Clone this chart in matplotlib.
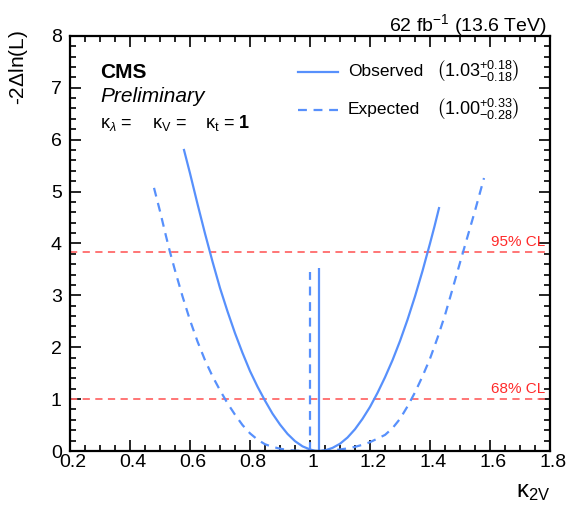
import matplotlib
matplotlib.use("Agg")
import matplotlib.pyplot as plt
import matplotlib.transforms as mtrans
from matplotlib.ticker import MultipleLocator

plt.rcParams["font.family"] = ["Liberation Sans", "DejaVu Sans"]
plt.rcParams["mathtext.fontset"] = "custom"
plt.rcParams["mathtext.rm"] = "Liberation Sans"
plt.rcParams["mathtext.it"] = "Liberation Sans:italic"
plt.rcParams["mathtext.bf"] = "Liberation Sans:bold"

# observed scan, -2 dlnL vs kappa_2V
obs_k2v = [0.58, 0.60, 0.625, 0.65, 0.675, 0.70, 0.725, 0.75, 0.775, 0.80,
           0.825, 0.85, 0.875, 0.90, 0.925, 0.95, 0.975, 1.00, 1.015, 1.03,
           1.05, 1.075, 1.10, 1.125, 1.15, 1.175, 1.20, 1.225, 1.25, 1.275,
           1.30, 1.325, 1.35, 1.375, 1.40, 1.415, 1.43]
obs_nll = [5.80, 5.35, 4.76, 4.19, 3.65, 3.14, 2.69, 2.27, 1.89, 1.54,
           1.24, 0.97, 0.72, 0.51, 0.33, 0.19, 0.09, 0.03, 0.007, 0.00,
           0.012, 0.06, 0.14, 0.26, 0.42, 0.62, 0.85, 1.12, 1.42, 1.75,
           2.12, 2.53, 2.98, 3.47, 4.00, 4.33, 4.68]

# expected (Asimov) scan
exp_k2v = [0.48, 0.50, 0.52, 0.533, 0.55, 0.575, 0.60, 0.625, 0.65, 0.675,
           0.70, 0.725, 0.75, 0.775, 0.80, 0.825, 0.85, 0.875, 0.90, 0.925,
           0.95, 0.975, 1.00, 1.025, 1.05, 1.075, 1.10, 1.125, 1.15, 1.175,
           1.20, 1.225, 1.25, 1.275, 1.30, 1.325, 1.35, 1.375, 1.40, 1.425,
           1.45, 1.475, 1.50, 1.525, 1.55, 1.58]
exp_nll = [5.07, 4.62, 4.14, 3.84, 3.48, 2.98, 2.52, 2.11, 1.75, 1.44,
           1.17, 0.92, 0.70, 0.50, 0.34, 0.22, 0.13, 0.08, 0.045, 0.02,
           0.008, 0.002, 0.00, 0.001, 0.005, 0.013, 0.03, 0.05, 0.08, 0.12,
           0.17, 0.24, 0.31, 0.44, 0.62, 0.86, 1.13, 1.44, 1.78, 2.18,
           2.62, 3.12, 3.63, 4.13, 4.63, 5.26]

# best fit values and uncertainties
obs_best, obs_up, obs_dn = 1.03, 0.18, 0.18
exp_best, exp_up, exp_dn = 1.00, 0.33, 0.28
obs_mark_h = 3.52
exp_mark_h = 3.45

cl_levels = [1.0, 3.84]
cl_names = ["68% CL", "95% CL"]

blue = "#5790fc"
red_line = "#ff6a6a"
red_txt = "#ff2a2a"
dash = (0, (4, 3))

fig = plt.figure(figsize=(5.8, 5.19), dpi=100)
ax = fig.add_axes([0.1207, 0.131, 0.8276, 0.8000])

for lvl, name in zip(cl_levels, cl_names):
    ax.axhline(lvl, color=red_line, ls=dash, lw=1.3)
    ax.text(1.785, lvl + 0.06, name, color=red_txt, fontsize=11,
            ha="right", va="bottom")

ax.plot(exp_k2v, exp_nll, color=blue, ls=dash, lw=1.6)
ax.plot(obs_k2v, obs_nll, color=blue, ls="-", lw=1.6)
ax.vlines(exp_best, 0, exp_mark_h, color=blue, ls=dash, lw=1.6)
ax.vlines(obs_best, 0, obs_mark_h, color=blue, ls="-", lw=1.6)

ax.set_xlim(0.2, 1.8)
ax.set_ylim(0, 8)
ax.xaxis.set_major_locator(MultipleLocator(0.2))
ax.xaxis.set_minor_locator(MultipleLocator(0.05))
ax.yaxis.set_major_locator(MultipleLocator(1))
ax.yaxis.set_minor_locator(MultipleLocator(0.2))
ax.xaxis.set_major_formatter(plt.FuncFormatter(lambda v, p: f"{v:g}"))
ax.tick_params(which="both", direction="in", top=True, right=True,
               width=1.2, labelsize=14)
ax.tick_params(which="major", length=8)
ax.tick_params(which="minor", length=4)
ax.tick_params(axis="x", pad=2)
ax.tick_params(axis="y", pad=6)
for s in ax.spines.values():
    s.set_linewidth(1.6)

# ROOT puts the x labels a touch to the right
shift = mtrans.ScaledTranslation(3 / 100, 0, fig.dpi_scale_trans)
for lab in ax.get_xticklabels():
    lab.set_transform(lab.get_transform() + shift)

ax.text(-0.108, 1.014, "-2$\\Delta$ln(L)", transform=ax.transAxes,
        rotation=90, fontsize=15, ha="center", va="top")
ax.text(1.0, -0.099, "κ$_{\\mathrm{2V}}$", transform=ax.transAxes,
        fontsize=17, ha="right", va="center")
ax.text(0.994, 1.012, "62 fb$^{-1}$ (13.6 TeV)", transform=ax.transAxes,
        fontsize=14, ha="right", va="baseline")

ax.text(0.0625, 0.899, "CMS", transform=ax.transAxes, fontsize=15,
        fontweight="bold", va="baseline")
ax.text(0.0625, 0.841, "Preliminary", transform=ax.transAxes, fontsize=15,
        style="italic", va="baseline")
ax.text(0.0625, 0.778, "κ$_{\\lambda}$ =", transform=ax.transAxes,
        fontsize=13, va="baseline")
ax.text(0.171, 0.778, "κ$_{\\mathrm{V}}$ =", transform=ax.transAxes,
        fontsize=13, va="baseline")
ax.text(0.281, 0.778, "κ$_{\\mathrm{t}}$ =", transform=ax.transAxes,
        fontsize=13, va="baseline")
ax.text(0.352, 0.778, "1", transform=ax.transAxes, fontsize=13,
        fontweight="bold", va="baseline")

# legend
rows = [("Observed", "-", obs_best, obs_up, obs_dn, 0.913),
        ("Expected", dash, exp_best, exp_up, exp_dn, 0.822)]
for name, style, best, up, dn, yy in rows:
    ax.plot([0.475, 0.558], [yy, yy], transform=ax.transAxes, color=blue,
            ls=style, lw=1.6)
    ax.text(0.579, yy, name, transform=ax.transAxes, fontsize=12.5,
            va="center")
    ax.text(0.7625, yy,
            f"$\\left(\\mathrm{{{best:.2f}}}^{{+{up:.2f}}}_{{-{dn:.2f}}}\\right)$",
            transform=ax.transAxes, fontsize=13, va="center")

fig.savefig("out.png", dpi=100)
